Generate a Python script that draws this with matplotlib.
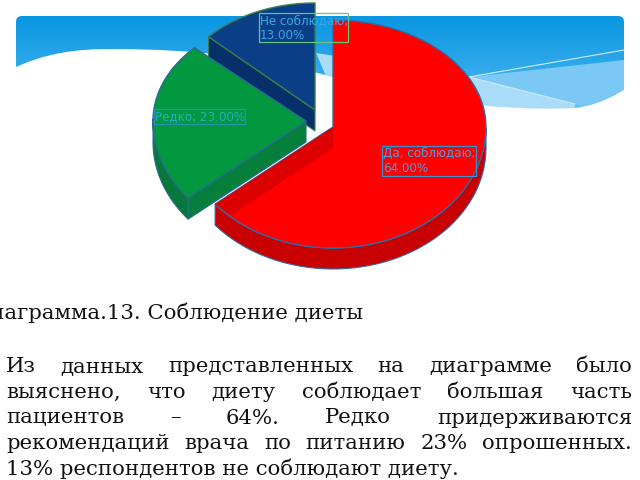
import numpy as np
import matplotlib.pyplot as plt
from matplotlib.colors import LinearSegmentedColormap
from matplotlib.patches import Polygon, PathPatch, FancyBboxPatch
from matplotlib.path import Path

labels = ['Да, соблюдаю;\n64.00%', 'Редко; 23.00%', 'Не соблюдаю;\n13.00%']
values = [64, 23, 13]

top_colors = ['#ff0000', '#02983f', '#0a3f88']
wall_colors = ['#c90000', '#06783a', '#07306a']
inner_colors = ['#dc0000', '#067f3c', '#07306a']
edge_colors = ['#2a6ca8', '#2a6a90', '#3d7d4a']
label_colors = ['#4a9ee0', '#1fb0c0', '#3aa6e6']
label_edges = ['#3a8fd0', '#2f8fb0', '#6cc47c']

# apex of each slice, in pixels
apex_x = [333, 306, 315]
apex_y = [127, 121, 110]
radius_x = [153, 153, 146]
label_x = [383, 155, 260]
label_y = [147, 110, 14]
box_w = [94, 91, 89]
box_h = [30, 15, 29]

caption = 'Диаграмма.13. Соблюдение диеты'
body_lines = ['Из данных представленных на диаграмме было',
              'выяснено, что диету соблюдает большая часть',
              'пациентов – 64%. Редко придерживаются',
              'рекомендаций врача по питанию 23% опрошенных.']
last_line = '13% респондентов не соблюдают диету.'

RY_TOP, RY_BOT, DEPTH = 107, 121, 21
FS = 15.3

fig = plt.figure(figsize=(6.4, 4.8), dpi=100)
ax = fig.add_axes([0, 0, 1, 1])


def rim(cx, cy, rx, a0, a1, n=80):
    t = np.radians(np.linspace(a0, a1, n))
    s = np.sin(t)
    y = cy - np.where(s > 0, RY_TOP, RY_BOT) * s
    return np.column_stack([cx + rx * np.cos(t), y])


# background band of the slide
band = FancyBboxPatch((16, 16), 608, 150, boxstyle='round,pad=0,rounding_size=6',
                      fc='none', ec='none')
ax.add_patch(band)
grad = np.linspace(0, 1, 80).reshape(-1, 1)
img = ax.imshow(grad, extent=[16, 624, 115, 16], aspect='auto', zorder=1,
                cmap=LinearSegmentedColormap.from_list('b', ['#0a96e2', '#2ea8ea', '#6cc0f2']))
img.set_clip_path(band)
ax.set_xlim(0, 640)
ax.set_ylim(480, 0)
ax.axis('off')

# light waves on the right
ax.add_patch(Polygon([(316, 53), (469, 77), (575, 104), (574, 122), (335, 97)],
                     fc='#a8dcf9', ec='none', zorder=1.5))
ax.add_patch(Polygon([(469, 77), (624, 60), (624, 122), (575, 104)],
                     fc='#7cc8f4', ec='none', zorder=1.5))

# white swoosh over the lower part of the band
verts = [(10, 70), (45, 52), (80, 49), (110, 49), (200, 49), (270, 58), (335, 78),
         (400, 98), (500, 112), (574, 108), (595, 106), (612, 98), (630, 86),
         (630, 175), (10, 175), (10, 70)]
codes = [Path.MOVETO] + [Path.CURVE4] * 12 + [Path.LINETO, Path.LINETO, Path.CLOSEPOLY]
ax.add_patch(PathPatch(Path(verts, codes), fc='white', ec='none', zorder=2))
ax.plot([469, 624], [77, 50], color='#cfeafb', lw=0.8, zorder=3)
ax.plot([469, 575], [77, 104], color='#cfeafb', lw=0.8, zorder=3)

# angles from the values, clockwise from 12 o'clock
shares = np.array(values) / sum(values) * 360
starts = 90 - np.concatenate([[0], np.cumsum(shares)[:-1]])
ends = starts - shares

z = 10
for i in [2, 1, 0]:
    cx, cy = apex_x[i], apex_y[i]
    arc = rim(cx, cy, radius_x[i], starts[i], ends[i])
    # outer wall, only the front part of the rim shows
    low = arc[arc[:, 1] >= cy - 3]
    if len(low) > 1:
        wall = np.vstack([low, (low + [0, DEPTH])[::-1]])
        ax.add_patch(Polygon(wall, fc=wall_colors[i], ec=edge_colors[i], lw=0.8, zorder=z))
    face = np.vstack([[cx, cy], arc])
    if i == 0:
        # the cut side of the big slice shows on top of its face
        ax.add_patch(Polygon(face, fc=top_colors[i], ec=edge_colors[i], lw=1.0, zorder=z + 0.1))
        p = arc[-1]
        side = np.array([[cx, cy], p, p + [16, 11], [cx, cy + DEPTH]])
        ax.add_patch(Polygon(side, fc=inner_colors[i], ec='none', zorder=z + 0.2))
    else:
        p = arc[0]
        side = np.array([[cx, cy], p, p + [0, DEPTH], [cx, cy + DEPTH]])
        ax.add_patch(Polygon(side, fc=inner_colors[i], ec=edge_colors[i], lw=0.8, zorder=z + 0.1))
        ax.add_patch(Polygon(face, fc=top_colors[i], ec=edge_colors[i], lw=1.0, zorder=z + 0.2))
    z += 1

for i in range(3):
    ax.text(label_x[i], label_y[i], labels[i], color=label_colors[i], fontsize=8.6,
            va='top', ha='left', linespacing=1.2, zorder=20, family='DejaVu Sans')
    ax.add_patch(plt.Rectangle((label_x[i] - 1, label_y[i] - 1), box_w[i], box_h[i], fc='none',
                               ec=label_edges[i], lw=0.9, zorder=20))

# text under the chart
ax.text(-27, 313, caption, fontsize=FS, family='DejaVu Serif', color='#111111', va='center')

fig.canvas.draw()
rend = fig.canvas.get_renderer()
left, right = 6, 632
base = 367
for row, line in enumerate(body_lines):
    words = line.split(' ')
    widths = []
    for w in words:
        t = ax.text(0, 0, w, fontsize=FS, family='DejaVu Serif')
        widths.append(t.get_window_extent(rend).width)
        t.remove()
    gap = (right - left - sum(widths)) / (len(words) - 1)
    x = left
    for w, wd in zip(words, widths):
        ax.text(x, base + row * 25.5, w, fontsize=FS, family='DejaVu Serif',
                color='#111111', va='center')
        x += wd + gap
ax.text(left, base + 4 * 25.5, last_line, fontsize=FS, family='DejaVu Serif',
        color='#111111', va='center')

fig.savefig('out.png', dpi=100)
